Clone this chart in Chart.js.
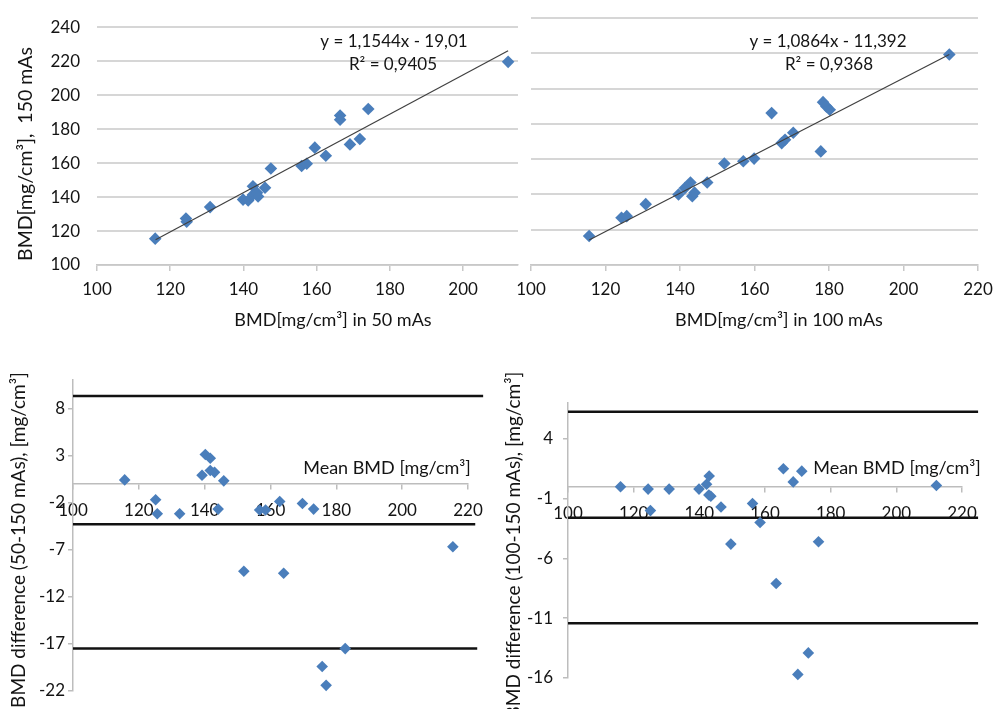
<!DOCTYPE html>
<html>
<head>
<meta charset="utf-8">
<script src="https://cdn.jsdelivr.net/npm/chart.js@4/dist/chart.umd.min.js"></script>
<style>
html,body{margin:0;padding:0;background:#fff;}
#wrap{position:relative;width:1005px;height:709px;overflow:hidden;background:#fff;}
#wrap canvas{position:absolute;left:0;top:0;}
</style>
</head>
<body>
<div id="wrap">
<canvas id="cTL" width="1005" height="709"></canvas>
<canvas id="cTR" width="1005" height="709"></canvas>
<canvas id="cBL" width="1005" height="709"></canvas>
<canvas id="cBR" width="1005" height="709"></canvas>
</div>
<script>
// ---------------- DATA ----------------
// Top-left: BMD at 50 mAs vs 150 mAs
const bmd50 = [115.9,124.3,124.5,130.9,139.9,141.3,142.6,142.6,143.7,144.0,145.9,147.5,155.9,157.3,159.5,162.5,166.4,166.4,169.1,171.8,174.1,212.3];
const bmd150a = [115.5,127.4,125.5,134.1,138.5,138.0,146.3,141.4,142.5,140.3,145.5,156.8,158.3,159.6,169.1,164.3,188.0,185.5,171.0,174.2,191.8,219.6];
const trendTLx = [116.0, 212.3];
const trendTLy = [114.9, 226.1];

// Top-right: BMD at 100 mAs vs 150 mAs
const bmd100 = [115.6,124.3,125.7,130.8,139.6,141.3,142.8,143.3,143.9,147.3,151.9,157.0,159.9,164.6,167.3,168.2,170.4,177.8,178.4,179.3,180.2,212.3];
const bmd150b = [116.4,126.8,127.7,134.5,140.0,143.6,146.8,139.0,141.0,146.8,157.5,158.8,160.3,186.1,169.1,171.0,175.0,164.4,192.3,189.9,188.0,219.3];
const trendTRx = [115.6, 212.3];
const trendTRy = [114.2, 219.3];

// Bottom-left: Bland-Altman 50-150 mAs
const meanBL = [115.7,125.1,125.6,132.4,139.2,140.2,141.7,141.7,143.0,144.1,145.8,151.9,156.7,158.5,162.8,164.0,169.7,173.1,175.7,176.9,182.7,215.4];
const diffBL = [0.4,-1.7,-3.2,-3.2,0.9,3.1,2.7,1.4,1.2,-2.7,0.3,-9.3,-2.8,-2.8,-1.9,-9.5,-2.1,-2.7,-19.4,-21.4,-17.5,-6.7];
const limitsBL = [9.3, -4.3, -17.5];
const limitEndBL = [224.6, 222.2, 222.8];

// Bottom-right: Bland-Altman 100-150 mAs
const meanBR = [116.0,124.4,125.1,130.8,139.9,142.2,143.0,142.9,143.5,146.6,149.6,156.2,158.5,163.4,165.6,168.6,171.2,170.0,173.2,176.3,212.2];
const diffBR = [0.0,-0.2,-2.0,-0.2,-0.2,0.2,0.9,-0.7,-0.8,-1.7,-4.8,-1.4,-3.0,-8.1,1.5,0.4,1.3,-15.7,-13.9,-4.6,0.1];
const limitsBR = [6.26, -2.59, -11.42];
const limitEndBR = [224.9, 224.9, 224.9];

// tick labels
const ticksTopY = [100,120,140,160,180,200,220,240];
const ticksTLx = [100,120,140,160,180,200];
const ticksTRx = [100,120,140,160,180,200,220];
const ticksBottomX = [100,120,140,160,180,200,220];
const ticksBLy = [-22,-17,-12,-7,-2,3,8];
const ticksBRy = [-16,-11,-6,-1,4];

// texts
const eqTL = ['y = 1,1544x - 19,01', 'R\u00b2 = 0,9405'];
const eqTR = ['y = 1,0864x - 11,392', 'R\u00b2 = 0,9368'];
const titleTLy = 'BMD[mg/cm\u00b3],  150 mAs';
const titleTLx = 'BMD[mg/cm\u00b3] in 50 mAs';
const titleTRx = 'BMD[mg/cm\u00b3] in 100 mAs';
const titleMean = 'Mean BMD [mg/cm\u00b3]';
const titleBLy = 'BMD difference (50-150 mAs), [mg/cm\u00b3]';
const titleBRy = 'BMD difference (100-150 mAs), [mg/cm\u00b3]';

// ---------------- HELPERS ----------------
const FONT = 'Lato';
const BLUE = '#4a7ebb';
const TEXTC = '#141414';
Chart.defaults.font.family = FONT;
Chart.defaults.color = TEXTC;

const zip = (xs, ys) => xs.map((x, i) => ({x: x, y: ys[i]}));
const setTicks = arr => (s => { s.ticks = arr.map(v => ({value: v})); });

function textPlugin(items) {
  return {
    id: 'txt',
    afterDraw(chart) {
      const ctx = chart.ctx;
      items.forEach(t => {
        ctx.save();
        ctx.font = t.font;
        ctx.fillStyle = TEXTC;
        ctx.textAlign = 'center';
        ctx.textBaseline = 'middle';
        ctx.translate(t.x, t.y);
        if (t.rot) ctx.rotate(t.rot);
        ctx.fillText(t.text, 0, 0);
        ctx.restore();
      });
    }
  };
}

const pointDS = (data) => ({
  data: data, showLine: false, pointStyle: 'rectRot', pointRadius: 6.3, pointHoverRadius: 6.3,
  backgroundColor: BLUE, borderColor: BLUE, borderWidth: 0, clip: false
});
const lineDS = (data, color, width) => ({
  data: data, showLine: true, pointRadius: 0, pointHoverRadius: 0, borderColor: color,
  borderWidth: width, fill: false, clip: false
});

const baseOpts = {
  responsive: false, animation: false, devicePixelRatio: 1,
  plugins: { legend: {display: false}, tooltip: {enabled: false} },
  events: []
};

function topChart(id, xs, ys, tx, ty, xmax, xticks, area, showY, texts) {
  new Chart(document.getElementById(id), {
    type: 'scatter',
    data: { datasets: [ lineDS(zip(tx, ty), '#404040', 1.2), pointDS(zip(xs, ys)) ] },
    options: Object.assign({}, baseOpts, {
      layout: { padding: { left: 0, top: area.top, right: 1005 - area.right, bottom: 0 } },
      scales: {
        x: {
          type: 'linear', position: 'bottom', min: 100, max: xmax,
          afterBuildTicks: setTicks(xticks),
          afterFit: s => { s.height = 709 - area.bottom; },
          grid: { display: true, drawOnChartArea: false, drawTicks: true, tickLength: 6, color: '#c8c8c8', lineWidth: 1.5 },
          border: { display: true, color: '#c8c8c8', width: 1.5 },
          ticks: { font: {size: 17}, color: TEXTC, padding: 8, maxRotation: 0, autoSkip: false }
        },
        y: {
          type: 'linear', position: 'left', min: 100, max: 240,
          afterBuildTicks: setTicks(ticksTopY),
          afterFit: s => { s.width = area.left; },
          grid: { display: true, drawTicks: false, color: '#d6d6d6', lineWidth: 2 },
          border: { display: false },
          ticks: { display: showY, font: {size: 17}, color: TEXTC, padding: 17, autoSkip: false }
        }
      }
    }),
    plugins: [textPlugin(texts)]
  });
}

function baChart(id, xs, ys, limits, limitEnds, ymin, ymax, yticks, area, ypad, texts) {
  const ds = [pointDS(zip(xs, ys))];
  limits.forEach((v, i) => ds.push(lineDS([{x: 100, y: v}, {x: limitEnds[i], y: v}], '#111111', 2.5)));
  ds.forEach(d => { if (d.showLine === false) { d.pointRadius = 5.8; d.pointHoverRadius = 5.8; } });
  new Chart(document.getElementById(id), {
    type: 'scatter',
    data: { datasets: ds },
    options: Object.assign({}, baseOpts, {
      layout: { padding: { left: 0, top: area.top, right: 1005 - area.right, bottom: 709 - area.bottom } },
      scales: {
        x: {
          type: 'linear', position: {y: 0}, min: 100, max: 220,
          afterBuildTicks: setTicks(ticksBottomX),
          afterFit: s => { s.height = 0; },
          grid: { display: true, drawOnChartArea: false, drawTicks: true, tickLength: 5, color: '#bdbdbd', lineWidth: 1.5 },
          border: { display: true, color: '#bdbdbd', width: 1.5 },
          ticks: { font: {size: 17}, color: TEXTC, padding: 12, maxRotation: 0, autoSkip: false }
        },
        y: {
          type: 'linear', position: 'left', min: ymin, max: ymax,
          afterBuildTicks: setTicks(yticks),
          afterFit: s => { s.width = area.left; },
          grid: { display: true, drawOnChartArea: false, drawTicks: true, tickLength: 5, color: '#bdbdbd', lineWidth: 1.5 },
          border: { display: true, color: '#bdbdbd', width: 1.5 },
          ticks: { font: {size: 17}, color: TEXTC, padding: ypad, autoSkip: false }
        }
      }
    }),
    plugins: [textPlugin(texts)]
  });
}

// ---------------- CHARTS ----------------
topChart('cTL', bmd50, bmd150a, trendTLx, trendTLy, 215, ticksTLx,
  {left: 97, right: 518, top: 18, bottom: 265}, true, [
    {text: eqTL[0], x: 394, y: 42, font: '17px ' + FONT},
    {text: eqTL[1], x: 393, y: 65, font: '17px ' + FONT},
    {text: titleTLx, x: 333, y: 320, font: '18px ' + FONT},
    {text: titleTLy, x: 26, y: 154, font: '19.5px ' + FONT, rot: -Math.PI / 2}
  ]);

topChart('cTR', bmd100, bmd150b, trendTRx, trendTRy, 220, ticksTRx,
  {left: 531, right: 978, top: 18, bottom: 265}, false, [
    {text: eqTR[0], x: 828, y: 42, font: '17px ' + FONT},
    {text: eqTR[1], x: 829, y: 65, font: '17px ' + FONT},
    {text: titleTRx, x: 779, y: 320, font: '18px ' + FONT}
  ]);

baChart('cBL', meanBL, diffBL, limitsBL, limitEndBL, -22, 11, ticksBLy,
  {left: 73, right: 468, top: 380, bottom: 691}, 3, [
    {text: titleMean, x: 387, y: 468, font: '18px ' + FONT},
    {text: titleBLy, x: 19, y: 540, font: '19px ' + FONT, rot: -Math.PI / 2}
  ]);

baChart('cBR', meanBR, diffBR, limitsBR, limitEndBR, -16, 7, ticksBRy,
  {left: 568, right: 962, top: 403, bottom: 678}, 10, [
    {text: titleMean, x: 897, y: 468, font: '18px ' + FONT},
    {text: titleBRy, x: 514, y: 545, font: '19px ' + FONT, rot: -Math.PI / 2}
  ]);
</script>
</body>
</html>
